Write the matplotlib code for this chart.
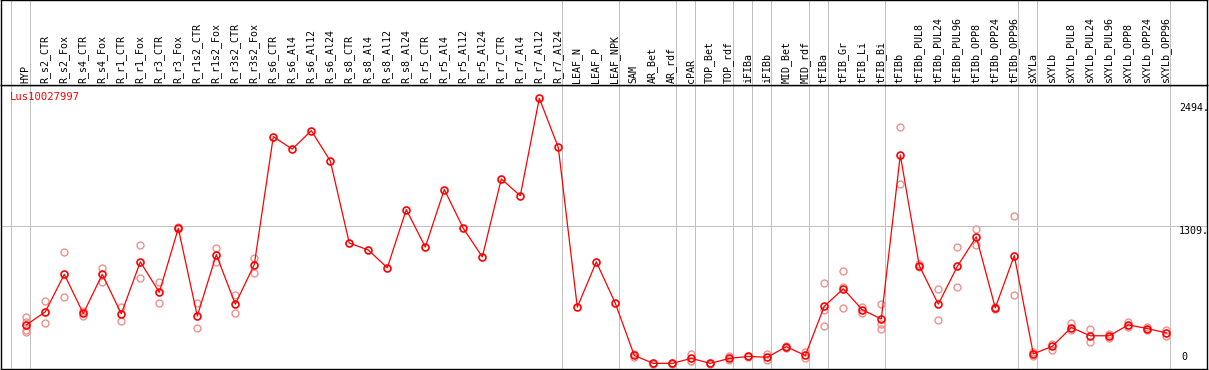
import matplotlib
matplotlib.use('Agg')
import matplotlib.pyplot as plt

# sample names, left to right
samples = ['HYP',
           'R_s2_CTR', 'R_s2_Fox', 'R_s4_CTR', 'R_s4_Fox', 'R_r1_CTR', 'R_r1_Fox',
           'R_r3_CTR', 'R_r3_Fox', 'R_r1s2_CTR', 'R_r1s2_Fox', 'R_r3s2_CTR', 'R_r3s2_Fox',
           'R_s6_CTR', 'R_s6_Al4', 'R_s6_Al12', 'R_s6_Al24',
           'R_s8_CTR', 'R_s8_Al4', 'R_s8_Al12', 'R_s8_Al24',
           'R_r5_CTR', 'R_r5_Al4', 'R_r5_Al12', 'R_r5_Al24',
           'R_r7_CTR', 'R_r7_Al4', 'R_r7_Al12', 'R_r7_Al24',
           'LEAF_N', 'LEAF_P', 'LEAF_NPK',
           'SAM', 'AR_Bet', 'AR_rdf', 'cPAR', 'TOP_Bet', 'TOP_rdf',
           'iFIBa', 'iFIBb', 'MID_Bet', 'MID_rdf',
           'tFIBa', 'tFIB_Gr', 'tFIB_Li', 'tFIB_Bi',
           'tFIBb', 'tFIBb_PUL8', 'tFIBb_PUL24', 'tFIBb_PUL96',
           'tFIBb_OPP8', 'tFIBb_OPP24', 'tFIBb_OPP96',
           'sXYLa', 'sXYLb', 'sXYLb_PUL8', 'sXYLb_PUL24', 'sXYLb_PUL96',
           'sXYLb_OPP8', 'sXYLb_OPP24', 'sXYLb_OPP96']

# number of samples in each group (gray separators between groups)
group_sizes = [1, 28, 3, 3, 1, 2, 1, 1, 2, 1, 3, 7, 1, 7]

# mean expression
means = [391, 512, 860, 497, 860, 494, 976, 693, 1287, 473, 1043, 583, 951,
         2138, 2022, 2193, 1912, 1150, 1086, 921, 1461, 1113, 1647, 1287, 1022,
         1745, 1589, 2494, 2037,
         555, 976, 592,
         107, 34, 34, 80, 34, 80, 98, 91, 189, 107,
         564, 726, 531, 446,
         1967, 940, 583, 933, 1208, 549, 1034,
         122, 192, 366, 290, 290, 391, 357, 317]

# replicate values (empty where none are drawn)
replicates = [[460, 421, 345, 329], [610, 409], [1068, 647], [521, 476], [921, 793],
              [558, 427], [1132, 830], [787, 592], [1296, 1281], [592, 366],
              [1107, 976], [665, 500], [1016, 876],
              [], [], [], [], [], [], [], [], [], [], [], [], [], [], [], [],
              [], [], [],
              [95, 119], [30, 38], [30, 38], [125, 60, 55], [30, 38], [101, 61],
              [92, 104], [120, 62], [199, 180], [137, 82],
              [784, 382, 533], [890, 552, 747], [561, 497], [583, 396, 354],
              [2230, 1695], [954, 924], [720, 439], [1113, 747], [1278, 1128],
              [558, 537], [1397, 665],
              [105, 139], [213, 162], [405, 339], [350, 235], [311, 268],
              [414, 369], [375, 341], [339, 284]]

gene = 'Lus10027997'
ymax_label = 2494
ymid_label = 1309

W, H = 1209, 370
mono = 'DejaVu Sans Mono'
grey = '#c0c0c0'

fig = plt.figure(figsize=(W / 100, H / 100), dpi=100)
fig.patch.set_facecolor('white')

# x pixel = 26.3 + 19 * i
x0 = (1 - 26.3) / 19
x1 = (1207 - 26.3) / 19

ax = fig.add_axes([1 / W, 1 - 369 / H, 1206 / W, 284 / H])
hax = fig.add_axes([1 / W, 1 - 85 / H, 1206 / W, 85 / H])

ax.set_xlim(x0, x1)
ax.set_ylim(-18.3, 2616.7)
hax.set_xlim(x0, x1)
hax.set_ylim(0, 1)

for a in (ax, hax):
    a.set_xticks([])
    a.set_yticks([])
    for s in a.spines.values():
        s.set_color('black')
        s.set_linewidth(1.0)

# group separators
seps = [-1]
acc = -1
for n in group_sizes:
    acc += n
    seps.append(acc)
for s in seps:
    ax.axvline(s + 0.2, color=grey, lw=0.72, zorder=0)
    hax.axvline(s + 0.2, color=grey, lw=0.72, zorder=0)

ax.axhline(ymid_label, color=grey, lw=0.72, zorder=0)

# header labels
for i, name in enumerate(samples):
    hax.text(i - 0.03, 2 / 85, name, rotation=90, ha='center', va='bottom',
             family=mono, fontsize=7.2, color='black')

# replicates
rx, ry = [], []
for i, reps in enumerate(replicates):
    for v in reps:
        rx.append(i)
        ry.append(v)
ax.plot(rx, ry, 'o', ls='none', ms=5.0, mfc='none', mec='#f09090', mew=1.0,
        zorder=2, clip_on=False)

# means
xs = list(range(len(means)))
ax.plot(xs, means, '-', color='red', lw=0.9, zorder=3)
ax.plot(xs, means, 'o', ls='none', ms=5.0, mfc='none', mec='red', mew=1.2,
        zorder=4)

fig.text(10 / W, 1 - 92 / H, gene, color='red', family=mono, fontsize=7.6,
         ha='left', va='top')

ax.annotate('%d.' % ymax_label, xy=(1178 / 1206, ymax_label),
            xycoords=('axes fraction', 'data'), xytext=(0, -4.5),
            textcoords='offset pixels', ha='left', va='top',
            family=mono, fontsize=7.2)
ax.annotate('%d.' % ymid_label, xy=(1178 / 1206, ymid_label),
            xycoords=('axes fraction', 'data'), xytext=(0, 0),
            textcoords='offset pixels', ha='left', va='top',
            family=mono, fontsize=7.2)
ax.annotate('0', xy=(1180 / 1206, 0),
            xycoords=('axes fraction', 'data'), xytext=(0, 5),
            textcoords='offset pixels', ha='left', va='bottom',
            family=mono, fontsize=7.2)

fig.savefig('out.png', dpi=100)
